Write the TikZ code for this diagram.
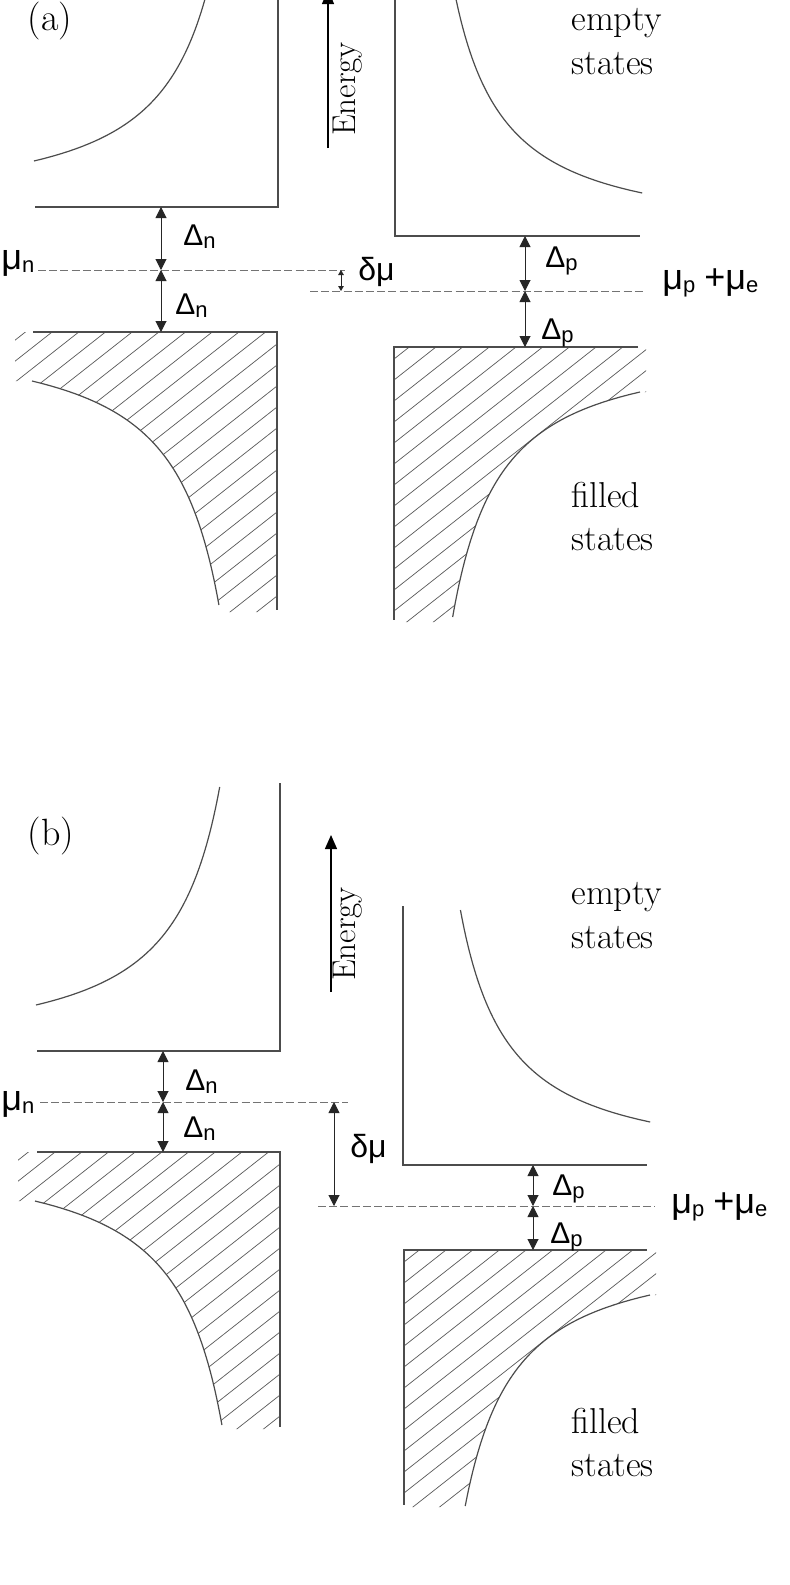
\documentclass[tikz,border=0pt]{standalone}
\usepackage{fontspec}
\newfontfamily\lsans{Liberation Sans}
\usetikzlibrary{arrows.meta}
\newcommand{\sublab}[1]{\raisebox{-1.5pt}{\fontsize{11}{11}\selectfont #1}}
\begin{document}
\begin{tikzpicture}[x=0.5pt,y=-0.5pt,
  boxline/.style={line width=0.6pt, draw=black!70},
  hatchline/.style={line width=0.35pt, draw=black!65},
  muline/.style={line width=0.5pt, draw=black!55, dash pattern=on 4pt off 1.6pt},
  gaparrow/.style={line width=0.5pt, draw=black!85, {Triangle[length=5.5pt,width=5.5pt]}-{Triangle[length=5.5pt,width=5.5pt]}},
  smallarrow/.style={line width=0.4pt, draw=black!85, {Triangle[length=2.5pt,width=2.8pt]}-{Triangle[length=2.5pt,width=2.8pt]}},
  energyarrow/.style={line width=0.7pt, -{Triangle[length=7pt,width=6pt]}},
  serif/.style={inner sep=0pt, anchor=base west, font=\fontsize{18}{22}\selectfont},
  panel/.style={inner sep=0pt, anchor=base, font=\fontsize{19}{22}\selectfont},
  energylab/.style={inner sep=0pt, rotate=90, font=\fontsize{16.5}{16.5}\selectfont},
  gaplab/.style={inner sep=0pt, anchor=base west, font=\lsans\fontsize{15}{15}\selectfont},
  mulab/.style={inner sep=0pt, font=\lsans\fontsize{18}{18}\selectfont},
  curve/.style={boxline, samples=90, variable=\t}
]
\fill[white] (0,0) rectangle (789,1585);
\clip (0,0) rectangle (789,1585);

% ================= PANEL (a) =================
% upper left box (empty states)
\begin{scope}[shift={(278,207)}]
  \draw[boxline] (-243,0) -- (0,0) -- (0,-215);
  \draw[curve] plot[domain=46:264] ({-5220/pow(\t,0.8)},{-\t});
\end{scope}
% upper right box
\begin{scope}[shift={(395,236)}]
  \draw[boxline] (0,-245) -- (0,0) -- (245,0);
  \draw[curve] plot[domain=43:262] ({5400/pow(\t,0.82)},{-\t});
\end{scope}
% lower left hatched box
\begin{scope}[shift={(277,332)}]
  \begin{scope}
    \clip plot[domain=49:273, samples=60, variable=\t] ({-6390/pow(\t,0.838)},{\t}) -- (-58,280) -- (0,280) -- (0,0) -- (-262,0) -- (-262,49) -- cycle;
    \foreach \c in {-219,-198,...,520} \draw[hatchline] (-270,\c+212.5) -- (260,\c-204.6);
  \end{scope}
  \draw[boxline] (-244,0) -- (0,0) -- (0,278);
  \draw[curve] plot[domain=49:273] ({-6390/pow(\t,0.838)},{\t});
\end{scope}
% lower right hatched box
\begin{scope}[shift={(394,347)}]
  \begin{scope}
    \clip plot[domain=45:270, samples=60, variable=\t] ({5170/pow(\t,0.8)},{\t}) -- (59,275) -- (0,275) -- (0,0) -- (252,0) -- (252,45) -- cycle;
    \foreach \c in {-219,-198,...,520} \draw[hatchline] (-270,\c+212.5) -- (260,\c-204.6);
  \end{scope}
  \draw[boxline] (244,0) -- (0,0) -- (0,273);
  \draw[curve] plot[domain=45:270] ({5170/pow(\t,0.8)},{\t});
\end{scope}

% coordinates (a)
\coordinate (aNtop) at (161,207);
\coordinate (aNmid) at (161,270);
\coordinate (aNbot) at (161,332);
\coordinate (aPtop) at (525,236);
\coordinate (aPmid) at (525,291);
\coordinate (aPbot) at (525,347);
\coordinate (aDtop) at (341,270);
\coordinate (aDbot) at (341,291);
\coordinate (aEbot) at (328,148);
\coordinate (aEtop) at (328,-10);
\coordinate (aMuL) at (38,270);
\coordinate (aMuR) at (345,270);
\coordinate (aMpL) at (310,291);
\coordinate (aMpR) at (643,291);

\draw[muline] (aMuL) -- (aMuR);
\draw[muline] (aMpL) -- (aMpR);
\draw[gaparrow] (aNtop) -- (aNmid);
\draw[gaparrow] (aNmid) -- (aNbot);
\draw[gaparrow] (aPtop) -- (aPmid);
\draw[gaparrow] (aPmid) -- (aPbot);
\draw[smallarrow] (aDtop) -- (aDbot);
\draw[energyarrow] (aEbot) -- (aEtop);

\node[panel] (labA) at (50,30) {(a)};
\node[energylab] (energyA) at (348,89) {Energy};
\node[serif] (emptyA1) at (571,30) {empty};
\node[serif] (emptyA2) at (571,74) {states};
\node[serif] (filledA1) at (571,507) {filled};
\node[serif] (filledA2) at (571,550) {states};
\node[gaplab] (dnA1) at (183,245) {Δ\sublab{n}};
\node[gaplab] (dnA2) at (175,314) {Δ\sublab{n}};
\node[gaplab] (dpA1) at (545,267) {Δ\sublab{p}};
\node[gaplab] (dpA2) at (541,339) {Δ\sublab{p}};
\node[mulab, anchor=base west] (dmuA) at (358,280) {\fontsize{16}{16}\selectfont δμ};
\node[mulab, anchor=base west] (mupA) at (662,289) {μ\sublab{p}\hspace{0.25em}+μ\sublab{e}};
\node[mulab, anchor=base west] (munA) at (1,269) {μ\sublab{n}};

% ================= PANEL (b) =================
\begin{scope}[shift={(280,1051)}]
  \draw[boxline] (-243,0) -- (0,0) -- (0,-268);
  \draw[curve] plot[domain=46:264] ({-5220/pow(\t,0.8)},{-\t});
\end{scope}
\begin{scope}[shift={(403,1165)}]
  \draw[boxline] (0,-259) -- (0,0) -- (244,0);
  \draw[curve] plot[domain=43:255] ({5400/pow(\t,0.82)},{-\t});
\end{scope}
\begin{scope}[shift={(280,1152)}]
  \begin{scope}
    \clip plot[domain=49:273, samples=60, variable=\t] ({-6390/pow(\t,0.838)},{\t}) -- (-58,277) -- (0,277) -- (0,0) -- (-262,0) -- (-262,49) -- cycle;
    \foreach \c in {-219,-198,...,520} \draw[hatchline] (-270,\c+212.5) -- (260,\c-204.6);
  \end{scope}
  \draw[boxline] (-243,0) -- (0,0) -- (0,275);
  \draw[curve] plot[domain=49:273] ({-6390/pow(\t,0.838)},{\t});
\end{scope}
\begin{scope}[shift={(404,1250)}]
  \begin{scope}
    \clip plot[domain=45:256, samples=60, variable=\t] ({5170/pow(\t,0.8)},{\t}) -- (59,257) -- (0,257) -- (0,0) -- (252,0) -- (252,45) -- cycle;
    \foreach \c in {-219,-198,...,520} \draw[hatchline] (-270,\c+212.5) -- (260,\c-204.6);
  \end{scope}
  \draw[boxline] (243,0) -- (0,0) -- (0,255);
  \draw[curve] plot[domain=45:256] ({5170/pow(\t,0.8)},{\t});
\end{scope}

\coordinate (bNtop) at (163,1051);
\coordinate (bNmid) at (163,1102);
\coordinate (bNbot) at (163,1152);
\coordinate (bPtop) at (533,1165);
\coordinate (bPmid) at (533,1206);
\coordinate (bPbot) at (533,1250);
\coordinate (bDtop) at (334,1102);
\coordinate (bDbot) at (334,1206);
\coordinate (bEbot) at (331,992);
\coordinate (bEtop) at (331,835);
\coordinate (bMuL) at (40,1102);
\coordinate (bMuR) at (348,1102);
\coordinate (bMpL) at (318,1206);
\coordinate (bMpR) at (655,1206);

\draw[muline] (bMuL) -- (bMuR);
\draw[muline] (bMpL) -- (bMpR);
\draw[gaparrow] (bNtop) -- (bNmid);
\draw[gaparrow] (bNmid) -- (bNbot);
\draw[gaparrow] (bPtop) -- (bPmid);
\draw[gaparrow] (bPmid) -- (bPbot);
\draw[gaparrow] (bDtop) -- (bDbot);
\draw[energyarrow] (bEbot) -- (bEtop);

\node[panel] (labB) at (51,845) {(b)};
\node[energylab] (energyB) at (348,934) {Energy};
\node[serif] (emptyB1) at (571,904) {empty};
\node[serif] (emptyB2) at (571,948) {states};
\node[serif] (filledB1) at (571,1433) {filled};
\node[serif] (filledB2) at (571,1476) {states};
\node[gaplab] (dnB1) at (185,1090) {Δ\sublab{n}};
\node[gaplab] (dnB2) at (183,1137) {Δ\sublab{n}};
\node[gaplab] (dpB1) at (552,1195) {Δ\sublab{p}};
\node[gaplab] (dpB2) at (550,1243) {Δ\sublab{p}};
\node[mulab, anchor=base west] (dmuB) at (350,1157) {\fontsize{16}{16}\selectfont δμ};
\node[mulab, anchor=base west] (mupB) at (671,1213) {μ\sublab{p}\hspace{0.25em}+μ\sublab{e}};
\node[mulab, anchor=base west] (munB) at (1,1110) {μ\sublab{n}};
\end{tikzpicture}
\end{document}
